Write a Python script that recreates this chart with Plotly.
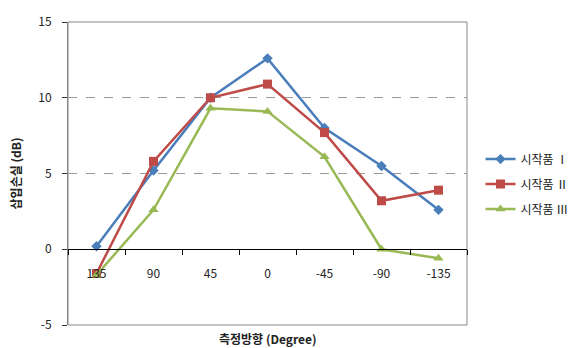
import plotly.graph_objects as go

categories = ["135", "90", "45", "0", "-45", "-90", "-135"]
series_names = ["시작품 Ⅰ", "시작품 Ⅱ", "시작품 Ⅲ"]
values_1 = [0.2, 5.2, 10.0, 12.6, 8.0, 5.5, 2.6]
values_2 = [-1.6, 5.8, 10.0, 10.9, 7.7, 3.2, 3.9]
values_3 = [-1.7, 2.6, 9.3, 9.1, 6.1, 0.0, -0.6]
y_ticks = [-5, 0, 5, 10, 15]
y_tick_labels = ["-5", "0", "5", "10", "15"]

colors = ["#4A7EBB", "#BE4B48", "#98B954"]
symbols = ["diamond", "square", "triangle-up"]
sizes = [8, 9, 9]

font_family = "Noto Sans CJK KR, Noto Sans, sans-serif"

fig = go.Figure()
for name, vals, c, s, sz in zip(series_names, [values_1, values_2, values_3], colors, symbols, sizes):
    fig.add_trace(go.Scatter(
        x=categories, y=vals, name=name, legendgroup=name, mode="lines+markers",
        line=dict(color=c, width=2.5),
        marker=dict(symbol=s, size=sz, color=c),
    ))

fig.update_layout(
    width=570, height=348,
    margin=dict(l=68, r=103, t=16, b=23),
    paper_bgcolor="white", plot_bgcolor="white",
    font=dict(family=font_family, size=12, color="#222"),
    showlegend=True,
    legend=dict(xref="container", x=0.843, xanchor="left", y=0.465, yanchor="middle",
                font=dict(size=12, color="#222"), tracegroupgap=6,
                itemwidth=30),
    xaxis=dict(
        type="category", categoryorder="array", categoryarray=categories,
        range=[-0.5, 6.5], tickson="boundaries",
        anchor="free", position=0.25,
        showline=True, linecolor="#000", linewidth=1,
        ticks="outside", ticklen=5, tickcolor="#000",
        showgrid=False, zeroline=False, ticklabelstandoff=13,
        tickfont=dict(size=12, color="#222"),
    ),
    yaxis=dict(
        range=[-5, 15], tickvals=y_ticks, ticktext=y_tick_labels,
        showline=True, linecolor="#868686", linewidth=1,
        ticks="outside", ticklen=5, tickcolor="#333",
        showgrid=True, gridcolor="#9a9a9a", griddash="dash", gridwidth=1,
        zeroline=False, ticklabelstandoff=8,
        tickfont=dict(size=12, color="#222"),
        title=dict(text="<b>삽입손실 (dB)</b>", font=dict(size=12, color="#222"), standoff=14),
    ),
    shapes=[dict(type="rect", xref="paper", yref="paper", x0=0, x1=1, y0=0, y1=1,
                 line=dict(color="#868686", width=1), layer="below")],
    annotations=[dict(text="<b>측정방향 (Degree)</b>", xref="paper", yref="paper",
                      x=0.5, y=-0.0, yshift=-13, yanchor="middle", showarrow=False,
                      font=dict(size=12, color="#222"))],
)

fig.write_html("out.html", config={"displayModeBar": False},
               post_script="document.body.style.margin='0';document.body.style.overflow='hidden';")
